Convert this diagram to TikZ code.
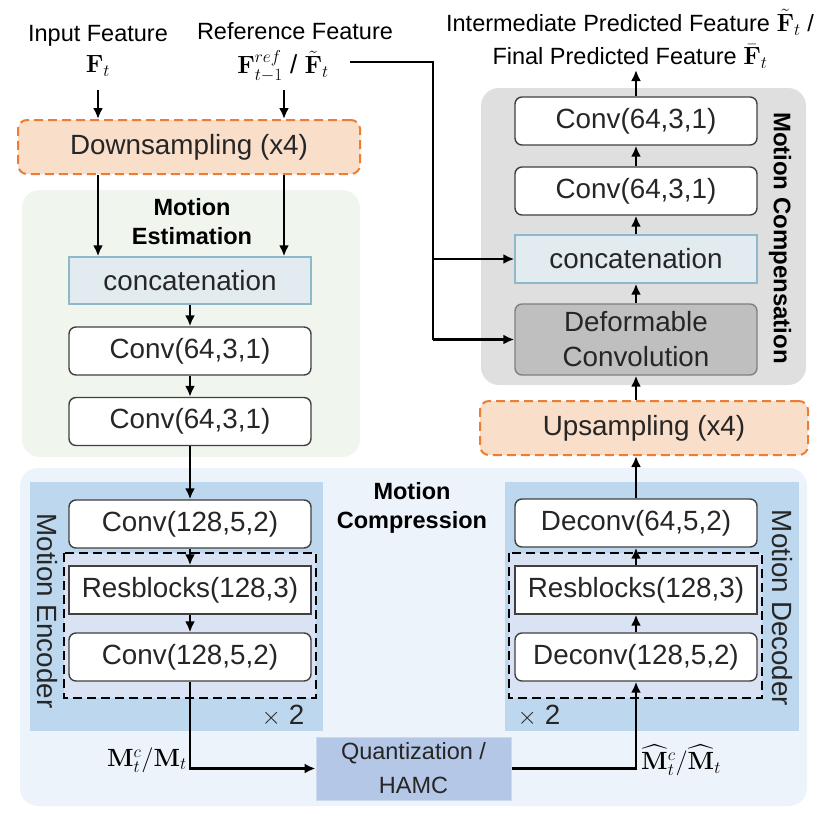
\documentclass[tikz,border=0pt]{standalone}
\usepackage[no-math]{fontspec}
\setmainfont{Liberation Sans}
\usepackage{amsmath}
\usetikzlibrary{arrows.meta}

\definecolor{txtgray}{RGB}{38,38,38}
\definecolor{boxline}{RGB}{64,64,64}
\definecolor{mepanel}{RGB}{240,246,237}
\definecolor{cpanel}{RGB}{237,243,250}
\definecolor{codpanel}{RGB}{189,215,238}
\definecolor{dashfill}{RGB}{218,227,243}
\definecolor{quantfill}{RGB}{180,199,231}
\definecolor{mcpanel}{RGB}{224,223,223}
\definecolor{deffill}{RGB}{191,191,191}
\definecolor{defline}{RGB}{127,127,127}
\definecolor{catfill}{RGB}{225,235,240}
\definecolor{catline}{RGB}{143,185,203}
\definecolor{orline}{RGB}{237,125,49}
\definecolor{orfill}{RGB}{249,222,202}

\newcommand{\boxfont}{\fontsize{27.8}{31}\selectfont}
\newcommand{\lblfont}{\fontsize{23.5}{34}\selectfont}
\newcommand{\hdfont}{\fontsize{23.5}{29}\selectfont\bfseries}
\newcommand{\mfont}{\fontsize{26}{30}\selectfont}

\begin{document}
\begin{tikzpicture}[x=1pt,y=-1pt,
	arr/.style={line width=2.5pt,-{Latex[length=11pt,width=10pt]}},
	ln/.style={line width=2.5pt},
	blk/.style={draw=boxline,line width=1.4pt,rounded corners=7pt,fill=white,
		minimum width=242pt,minimum height=48pt,inner sep=0pt,font=\boxfont,text=txtgray},
	resblk/.style={blk,rounded corners=0pt},
	catblk/.style={blk,rounded corners=0pt,draw=catline,fill=catfill},
	defblk/.style={blk,draw=defline,fill=deffill,minimum height=71pt,align=center,
		font=\fontsize{27.8}{35}\selectfont},
	sampblk/.style={draw=orline,fill=orfill,line width=2pt,dash pattern=on 9pt off 5pt,
		rounded corners=9pt,minimum height=54pt,inner sep=0pt,font=\boxfont,text=txtgray},
	quantblk/.style={fill=quantfill,draw=quantfill!70!white,line width=1pt,minimum width=195pt,
		minimum height=63pt,inner sep=0pt,align=center,font=\lblfont,text=txtgray},
	dashbox/.style={draw=black,line width=1.5pt,dash pattern=on 9pt off 5pt,fill=dashfill},
	lbl/.style={font=\lblfont,text=black,inner sep=0pt,align=center},
	hd/.style={font=\hdfont,text=black,inner sep=0pt,align=center},
]

\useasboundingbox (0,0) rectangle (838,817);

% panels
\fill[mepanel,rounded corners=18pt] (22,190) rectangle (360,457);
\fill[cpanel,rounded corners=18pt] (20,468) rectangle (807,806);
\fill[codpanel] (30,482) rectangle (323,731);
\fill[codpanel] (505,482) rectangle (799,731);
\fill[mcpanel,rounded corners=18pt] (481,88) rectangle (806,385);
\draw[dashbox] (64,553) rectangle (316,698);
\draw[dashbox] (509,553) rectangle (762,698);

% inputs
\node[lbl] (inlbl) at (98,51) {Input Feature\\[-3pt]{\mfont$\mathbf{F}_t$}};
\node[lbl] (reflbl) at (295,31) {Reference Feature};
\node[lbl,font=\mfont] (refF) at (283,66) {$\mathbf{F}^{ref}_{t-1}$ / $\tilde{\mathbf{F}}_t$};

% motion estimation
\node[sampblk,minimum width=342pt] (down) at (189,147) {Downsampling (x4)};
\node[hd] (mehd) at (192,222) {Motion\\Estimation};
\node[catblk,minimum height=47pt] (cat1) at (190,280.5) {concatenation};
\node[blk] (conv1) at (190,351) {Conv(64,3,1)};
\node[blk] (conv2) at (190,421.5) {Conv(64,3,1)};

% motion compression
\node[hd] (mchd) at (412,507.5) {Motion\\Compression};
\node[blk] (enc1) at (190,524) {Conv(128,5,2)};
\node[resblk] (res1) at (190,590) {Resblocks(128,3)};
\node[blk] (enc2) at (190,657) {Conv(128,5,2)};
\node[lbl,rotate=-90,font=\boxfont,text=txtgray] (enclbl) at (47,611) {Motion Encoder};
\node[lbl,font=\boxfont,text=txtgray] (enctimes) at (283,716) {$\times$ 2};
\node[quantblk] (quant) at (413.5,768.5) {Quantization /\\HAMC};
\node[blk] (dec1) at (636,523) {Deconv(64,5,2)};
\node[resblk] (res2) at (636,590) {Resblocks(128,3)};
\node[blk] (dec2) at (636,657) {Deconv(128,5,2)};
\node[lbl,rotate=-90,font=\boxfont,text=txtgray] (declbl) at (782,608) {Motion Decoder};
\node[lbl,font=\boxfont,text=txtgray] (dectimes) at (539,716) {$\times$ 2};
\node[lbl,font=\mfont,anchor=east] (mlbl) at (187,760) {$\mathbf{M}^c_t/\mathbf{M}_t$};
\node[lbl,font=\mfont,anchor=west] (mhatlbl) at (641,760) {$\widehat{\mathbf{M}}^c_t/\widehat{\mathbf{M}}_t$};

% motion compensation
\node[sampblk,minimum width=328pt] (up) at (644,428) {Upsampling (x4)};
\node[defblk] (deform) at (636,339.5) {Deformable\\Convolution};
\node[catblk] (cat2) at (636,259) {concatenation};
\node[blk] (mconv1) at (636,191) {Conv(64,3,1)};
\node[blk] (mconv2) at (636,121) {Conv(64,3,1)};
\node[hd,rotate=-90,font=\fontsize{24}{29}\selectfont\bfseries] (mcomphd) at (780,238) {Motion Compensation};
\node[lbl] (outlbl) at (630,39) {Intermediate Predicted Feature $\tilde{\mathbf{F}}_t$ /\\[-1pt]
	Final Predicted Feature $\bar{\mathbf{F}}_t$};

\coordinate (inTop) at (98,90);
\coordinate (refTop) at (284,90);
\coordinate (refR) at (350,62);
\coordinate (split) at (433,62);
\coordinate (outTip) at (636,70);

% connectors
\draw[arr] (inTop) -- (inTop |- down.north);
\draw[arr] (refTop) -- (refTop |- down.north);
\draw[arr] (down.south -| inTop) -- (cat1.north -| inTop);
\draw[arr] (down.south -| refTop) -- (cat1.north -| refTop);
\draw[arr] (cat1) -- (conv1);
\draw[arr] (conv1) -- (conv2);
\draw[arr] (conv2) -- (enc1);
\draw[arr] (enc1) -- (res1);
\draw[arr] (res1) -- (enc2);
\draw[arr] (enc2.south) |- (quant.west);
\draw[arr] (quant.east) -| (dec2.south);
\draw[arr] (dec2) -- (res2);
\draw[arr] (res2) -- (dec1);
\draw[arr] (dec1.north) -- (dec1.north |- up.south);
\draw[arr] (up.north -| deform) -- (deform.south);
\draw[arr] (deform) -- (cat2);
\draw[arr] (cat2) -- (mconv1);
\draw[arr] (mconv1) -- (mconv2);
\draw[arr] (mconv2) -- (outTip);
\draw[ln] (refR) -- (split) -- (split |- deform.west);
\draw[arr] (split |- deform.west) -- (deform.west);
\draw[arr] (split |- cat2.west) -- (cat2.west);

\end{tikzpicture}
\end{document}
